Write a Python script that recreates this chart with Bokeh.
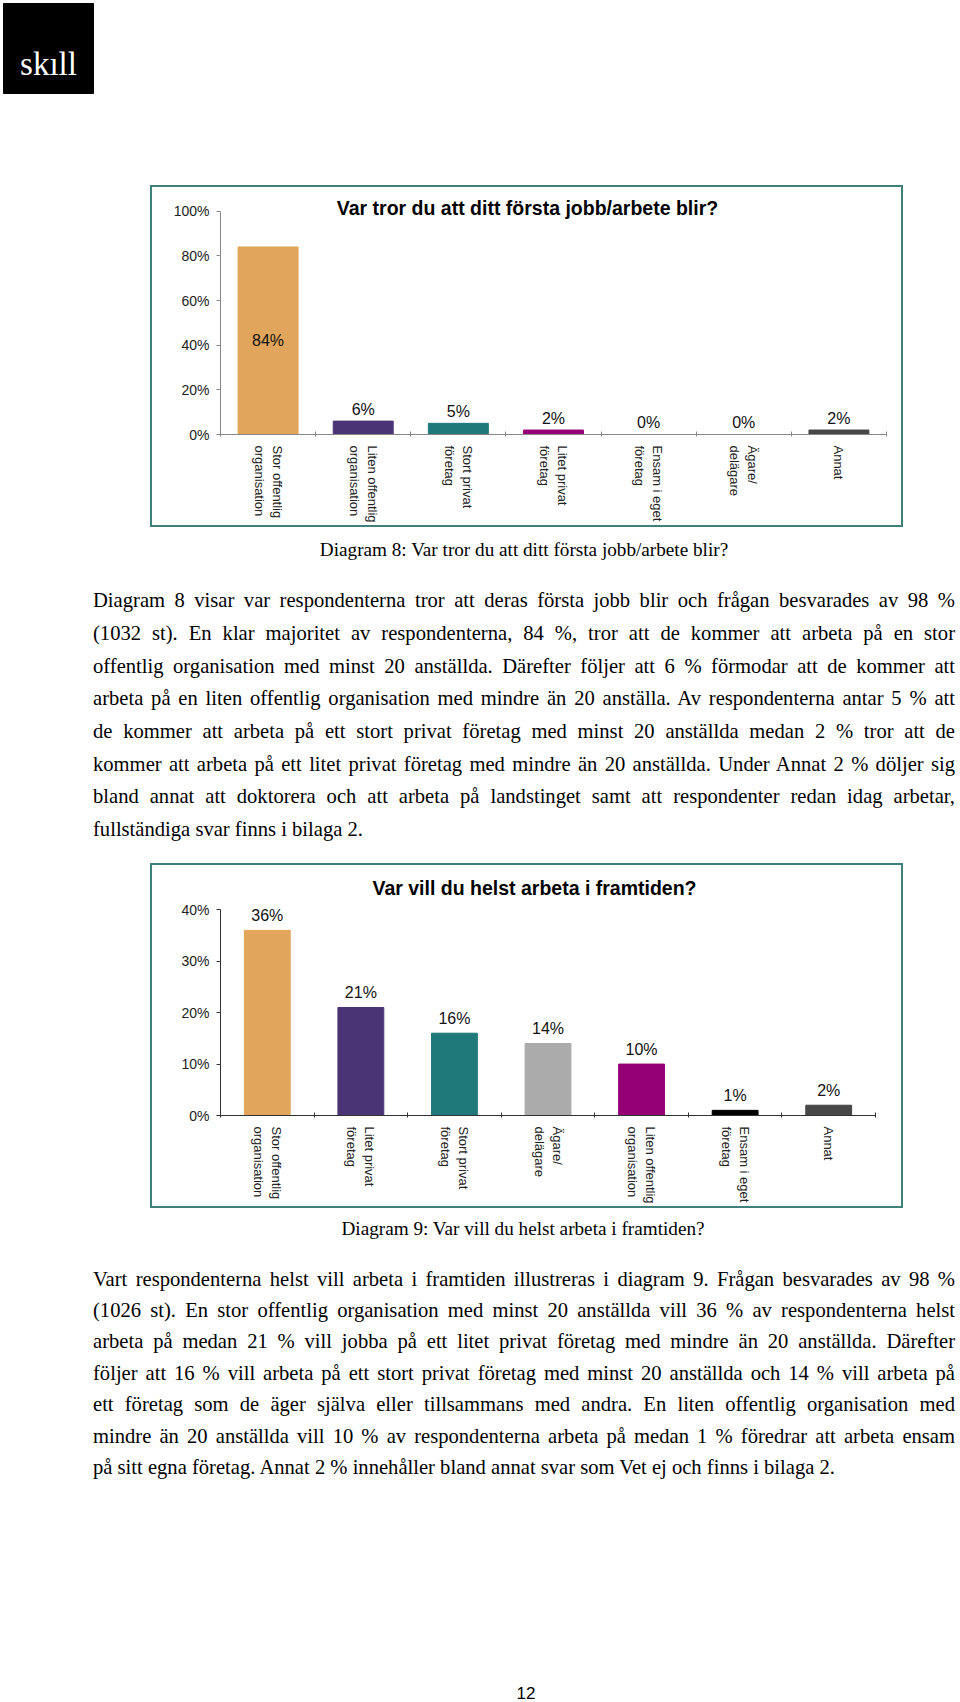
from bokeh.plotting import figure
from bokeh.models import (Range1d, LinearAxis, FixedTicker, PrintfTickFormatter,
                          Div, Spacer, ColumnDataSource)
from bokeh.layouts import column, row
from bokeh.embed import file_html
from bokeh.resources import INLINE
from bokeh.core.properties import value

# ---------------- data ----------------
logo_text = "skıll"

c1_title = "Var tror du att ditt första jobb/arbete blir?"
c1_categories = ["Stor offentlig\norganisation", "Liten offentlig\norganisation",
                 "Stort privat\nföretag", "Litet privat\nföretag",
                 "Ensam i eget\nföretag", "Ägare/\ndelägare", "Annat"]
c1_values = [84, 6, 5, 2, 0, 0, 2]
c1_colors = ["#E1A65B", "#4A3475", "#1F7879", "#960077", "#000000", "#ABABAB", "#474747"]
c1_yticks = [0, 20, 40, 60, 80, 100]

c2_title = "Var vill du helst arbeta i framtiden?"
c2_categories = ["Stor offentlig\norganisation", "Litet privat\nföretag",
                 "Stort privat\nföretag", "Ägare/\ndelägare",
                 "Liten offentlig\norganisation", "Ensam i eget\nföretag", "Annat"]
c2_values = [36, 21, 16, 14, 10, 1, 2]
c2_colors = ["#E1A65B", "#4A3475", "#1F7879", "#ABABAB", "#960077", "#000000", "#474747"]
c2_yticks = [0, 10, 20, 30, 40]

caption1 = "Diagram 8: Var tror du att ditt första jobb/arbete blir?"
para1 = [
    "Diagram 8 visar var respondenterna tror att deras första jobb blir och frågan besvarades av 98 %",
    "(1032 st). En klar majoritet av respondenterna, 84 %, tror att de kommer att arbeta på en stor",
    "offentlig organisation med minst 20 anställda. Därefter följer att 6 % förmodar att de kommer att",
    "arbeta på en liten offentlig organisation med mindre än 20 anställa. Av respondenterna antar 5 % att",
    "de kommer att arbeta på ett stort privat företag med minst 20 anställda medan 2 % tror att de",
    "kommer att arbeta på ett litet privat företag med mindre än 20 anställda. Under Annat 2 % döljer sig",
    "bland annat att doktorera och att arbeta på landstinget samt att respondenter redan idag arbetar,",
    "fullständiga svar finns i bilaga 2.",
]
caption2 = "Diagram 9: Var vill du helst arbeta i framtiden?"
para2 = [
    "Vart respondenterna helst vill arbeta i framtiden illustreras i diagram 9. Frågan besvarades av 98 %",
    "(1026 st). En stor offentlig organisation med minst 20 anställda vill 36 % av respondenterna helst",
    "arbeta på medan 21 % vill jobba på ett litet privat företag med mindre än 20 anställda. Därefter",
    "följer att 16 % vill arbeta på ett stort privat företag med minst 20 anställda och 14 % vill arbeta på",
    "ett företag som de äger själva eller tillsammans med andra. En liten offentlig organisation med",
    "mindre än 20 anställda vill 10 % av respondenterna arbeta på medan 1 % föredrar att arbeta ensam",
    "på sitt egna företag. Annat 2 % innehåller bland annat svar som Vet ej och finns i bilaga 2.",
]
page_number = "12"

# ---------------- layout constants ----------------
PAGE_W = 960
HEADER_H = 185
CHART_LEFT = 150
BOX_W = 753
BORDER = 2
FRAME_COLOR = "#3F807A"
SANS = "Liberation Sans"
SERIF = "Liberation Serif"


def make_chart(title, cats, vals, colors, yticks, width, height, left, right, bottom,
               axis_top_px, title_cx, title_cy, bar_width, label_gap, axis_color, inside_min=None):
    n = len(cats)
    frame_h = height - bottom
    frame_w = width - left - right
    y_max = yticks[-1]
    px_per_unit = (frame_h - axis_top_px) / y_max
    y_end = frame_h / px_per_unit

    p = figure(width=width, height=height, output_backend="svg", toolbar_location=None,
               x_range=Range1d(-0.5, n - 0.5), y_range=Range1d(0, y_end),
               x_axis_type=None, y_axis_type=None,
               min_border_left=left, min_border_right=right,
               min_border_top=0, min_border_bottom=bottom)
    p.outline_line_color = None
    p.background_fill_color = "white"
    p.border_fill_color = "white"

    yax = LinearAxis(ticker=FixedTicker(ticks=yticks),
                     formatter=PrintfTickFormatter(format="%d%%"), bounds=(0, y_max))
    yax.axis_line_color = axis_color
    yax.major_tick_line_color = axis_color
    yax.major_tick_out = 4
    yax.major_tick_in = 0
    yax.minor_tick_line_color = None
    yax.major_label_standoff = 7
    yax.major_label_text_font = SANS
    yax.major_label_text_font_size = "14px"
    yax.major_label_text_color = "#222222"
    p.add_layout(yax, "left")

    idx = list(range(n))
    xax = LinearAxis(ticker=FixedTicker(ticks=idx, minor_ticks=[i - 0.5 for i in range(n + 1)]),
                     major_label_overrides={i: c for i, c in enumerate(cats)},
                     major_label_orientation="vertical")
    xax.axis_line_color = axis_color
    xax.major_tick_line_color = None
    xax.major_tick_out = 0
    xax.major_tick_in = 0
    xax.minor_tick_line_color = axis_color
    xax.minor_tick_in = 3
    xax.minor_tick_out = 2
    xax.major_label_standoff = 9
    xax.major_label_text_font = SANS
    xax.major_label_text_font_size = "13px"
    xax.major_label_text_color = "#222222"
    p.add_layout(xax, "below")

    src = ColumnDataSource(dict(x=idx, top=vals, color=colors))
    p.vbar(x="x", top="top", bottom=0, width=bar_width, fill_color="color",
           line_color="color", source=src)

    out_x = [i for i, v in zip(idx, vals) if inside_min is None or v < inside_min]
    out_v = [vals[i] for i in out_x]
    p.text(x=out_x, y=out_v, text=[f"{v}%" for v in out_v], y_offset=-label_gap,
           text_align="center", text_baseline="middle", text_font=value(SANS),
           text_font_size="16px", text_color="#111111")
    if inside_min is not None:
        in_x = [i for i, v in zip(idx, vals) if v >= inside_min]
        in_v = [vals[i] for i in in_x]
        p.text(x=in_x, y=[v / 2 for v in in_v], text=[f"{v}%" for v in in_v],
               text_align="center", text_baseline="middle", text_font=value(SANS),
               text_font_size="16px", text_color="#111111")

    title_x = (title_cx - left) / frame_w * n - 0.5
    title_y = (frame_h - title_cy) / px_per_unit
    p.text(x=[title_x], y=[title_y], text=[title], text_align="center",
           text_baseline="middle", text_font=value(SANS), text_font_style="bold",
           text_font_size="19.5px", text_color="#000000")
    return p


def bar(w, h):
    return Div(text="", width=w, height=h, margin=0,
               styles={"background-color": FRAME_COLOR})


def boxed(chart, box_h):
    inner_h = box_h - 2 * BORDER
    return column(bar(BOX_W, BORDER),
                  row(bar(BORDER, inner_h), chart, bar(BORDER, inner_h), spacing=0),
                  bar(BOX_W, BORDER), spacing=0)


# header with logo
hdr = figure(width=PAGE_W, height=HEADER_H, output_backend="svg", toolbar_location=None,
             x_range=Range1d(0, PAGE_W), y_range=Range1d(HEADER_H, 0),
             x_axis_type=None, y_axis_type=None, min_border=0)
hdr.outline_line_color = None
hdr.quad(left=3, right=93, top=3, bottom=93, fill_color="#000000", line_color="#000000")
hdr.text(x=[48], y=[63], text=[logo_text], text_align="center", text_baseline="alphabetic",
         text_font=value(SERIF), text_font_size="33px", text_color="#FFFFFF")

CH1_H = 342
CH2_H = 345
IN_W = BOX_W - 2 * BORDER
chart1 = make_chart(c1_title, c1_categories, c1_values, c1_colors, c1_yticks,
                    width=IN_W, height=CH1_H - 2 * BORDER, left=68, right=15, bottom=88,
                    axis_top_px=24, title_cx=375, title_cy=21, bar_width=0.63, label_gap=12,
                    axis_color="#888888", inside_min=50)
chart2 = make_chart(c2_title, c2_categories, c2_values, c2_colors, c2_yticks,
                    width=IN_W, height=CH2_H - 2 * BORDER, left=68, right=26, bottom=87,
                    axis_top_px=45, title_cx=382, title_cy=23, bar_width=0.49, label_gap=15,
                    axis_color="#333333")


def text_block(height, caption, cap_center_x, cap_top, lines, para_top, line_h, extra=""):
    rows = []
    for i, ln in enumerate(lines):
        last = i == len(lines) - 1
        align = "text-align:left;" if last else "text-align:justify;text-align-last:justify;"
        rows.append(f'<div style="{align}white-space:nowrap;height:{line_h}px;'
                    f'line-height:{line_h}px;">{ln}</div>')
    html = (
        f'<div style="position:relative;width:{PAGE_W}px;height:{height}px;'
        f'font-family:\'{SERIF}\';color:#000;">'
        f'<div style="position:absolute;left:{cap_center_x - 300}px;width:600px;top:{cap_top}px;'
        f'text-align:center;font-size:19.2px;line-height:20px;">{caption}</div>'
        f'<div style="position:absolute;left:93px;width:862px;top:{para_top}px;'
        f'font-size:20.6px;">{"".join(rows)}</div>'
        f'{extra}</div>'
    )
    return Div(text=html, width=PAGE_W, height=height, margin=0)


DIV1_H = 336
DIV2_H = 492
div1 = text_block(DIV1_H, caption1, 524, 13, para1, 57.3, 32.7)
pn = (f'<div style="position:absolute;left:{526 - 50}px;width:100px;top:476px;text-align:center;'
      f'font-family:\'{SANS}\';font-size:17px;line-height:20px;">{page_number}</div>')
div2 = text_block(DIV2_H, caption2, 523, 11, para2, 55.6, 31.4, extra=pn)

layout = column(
    hdr,
    row(Spacer(width=CHART_LEFT, height=CH1_H), boxed(chart1, CH1_H), spacing=0),
    div1,
    row(Spacer(width=CHART_LEFT, height=CH2_H), boxed(chart2, CH2_H), spacing=0),
    div2,
    spacing=0,
)

open("out.html", "w", encoding="utf-8").write(file_html(layout, INLINE))
